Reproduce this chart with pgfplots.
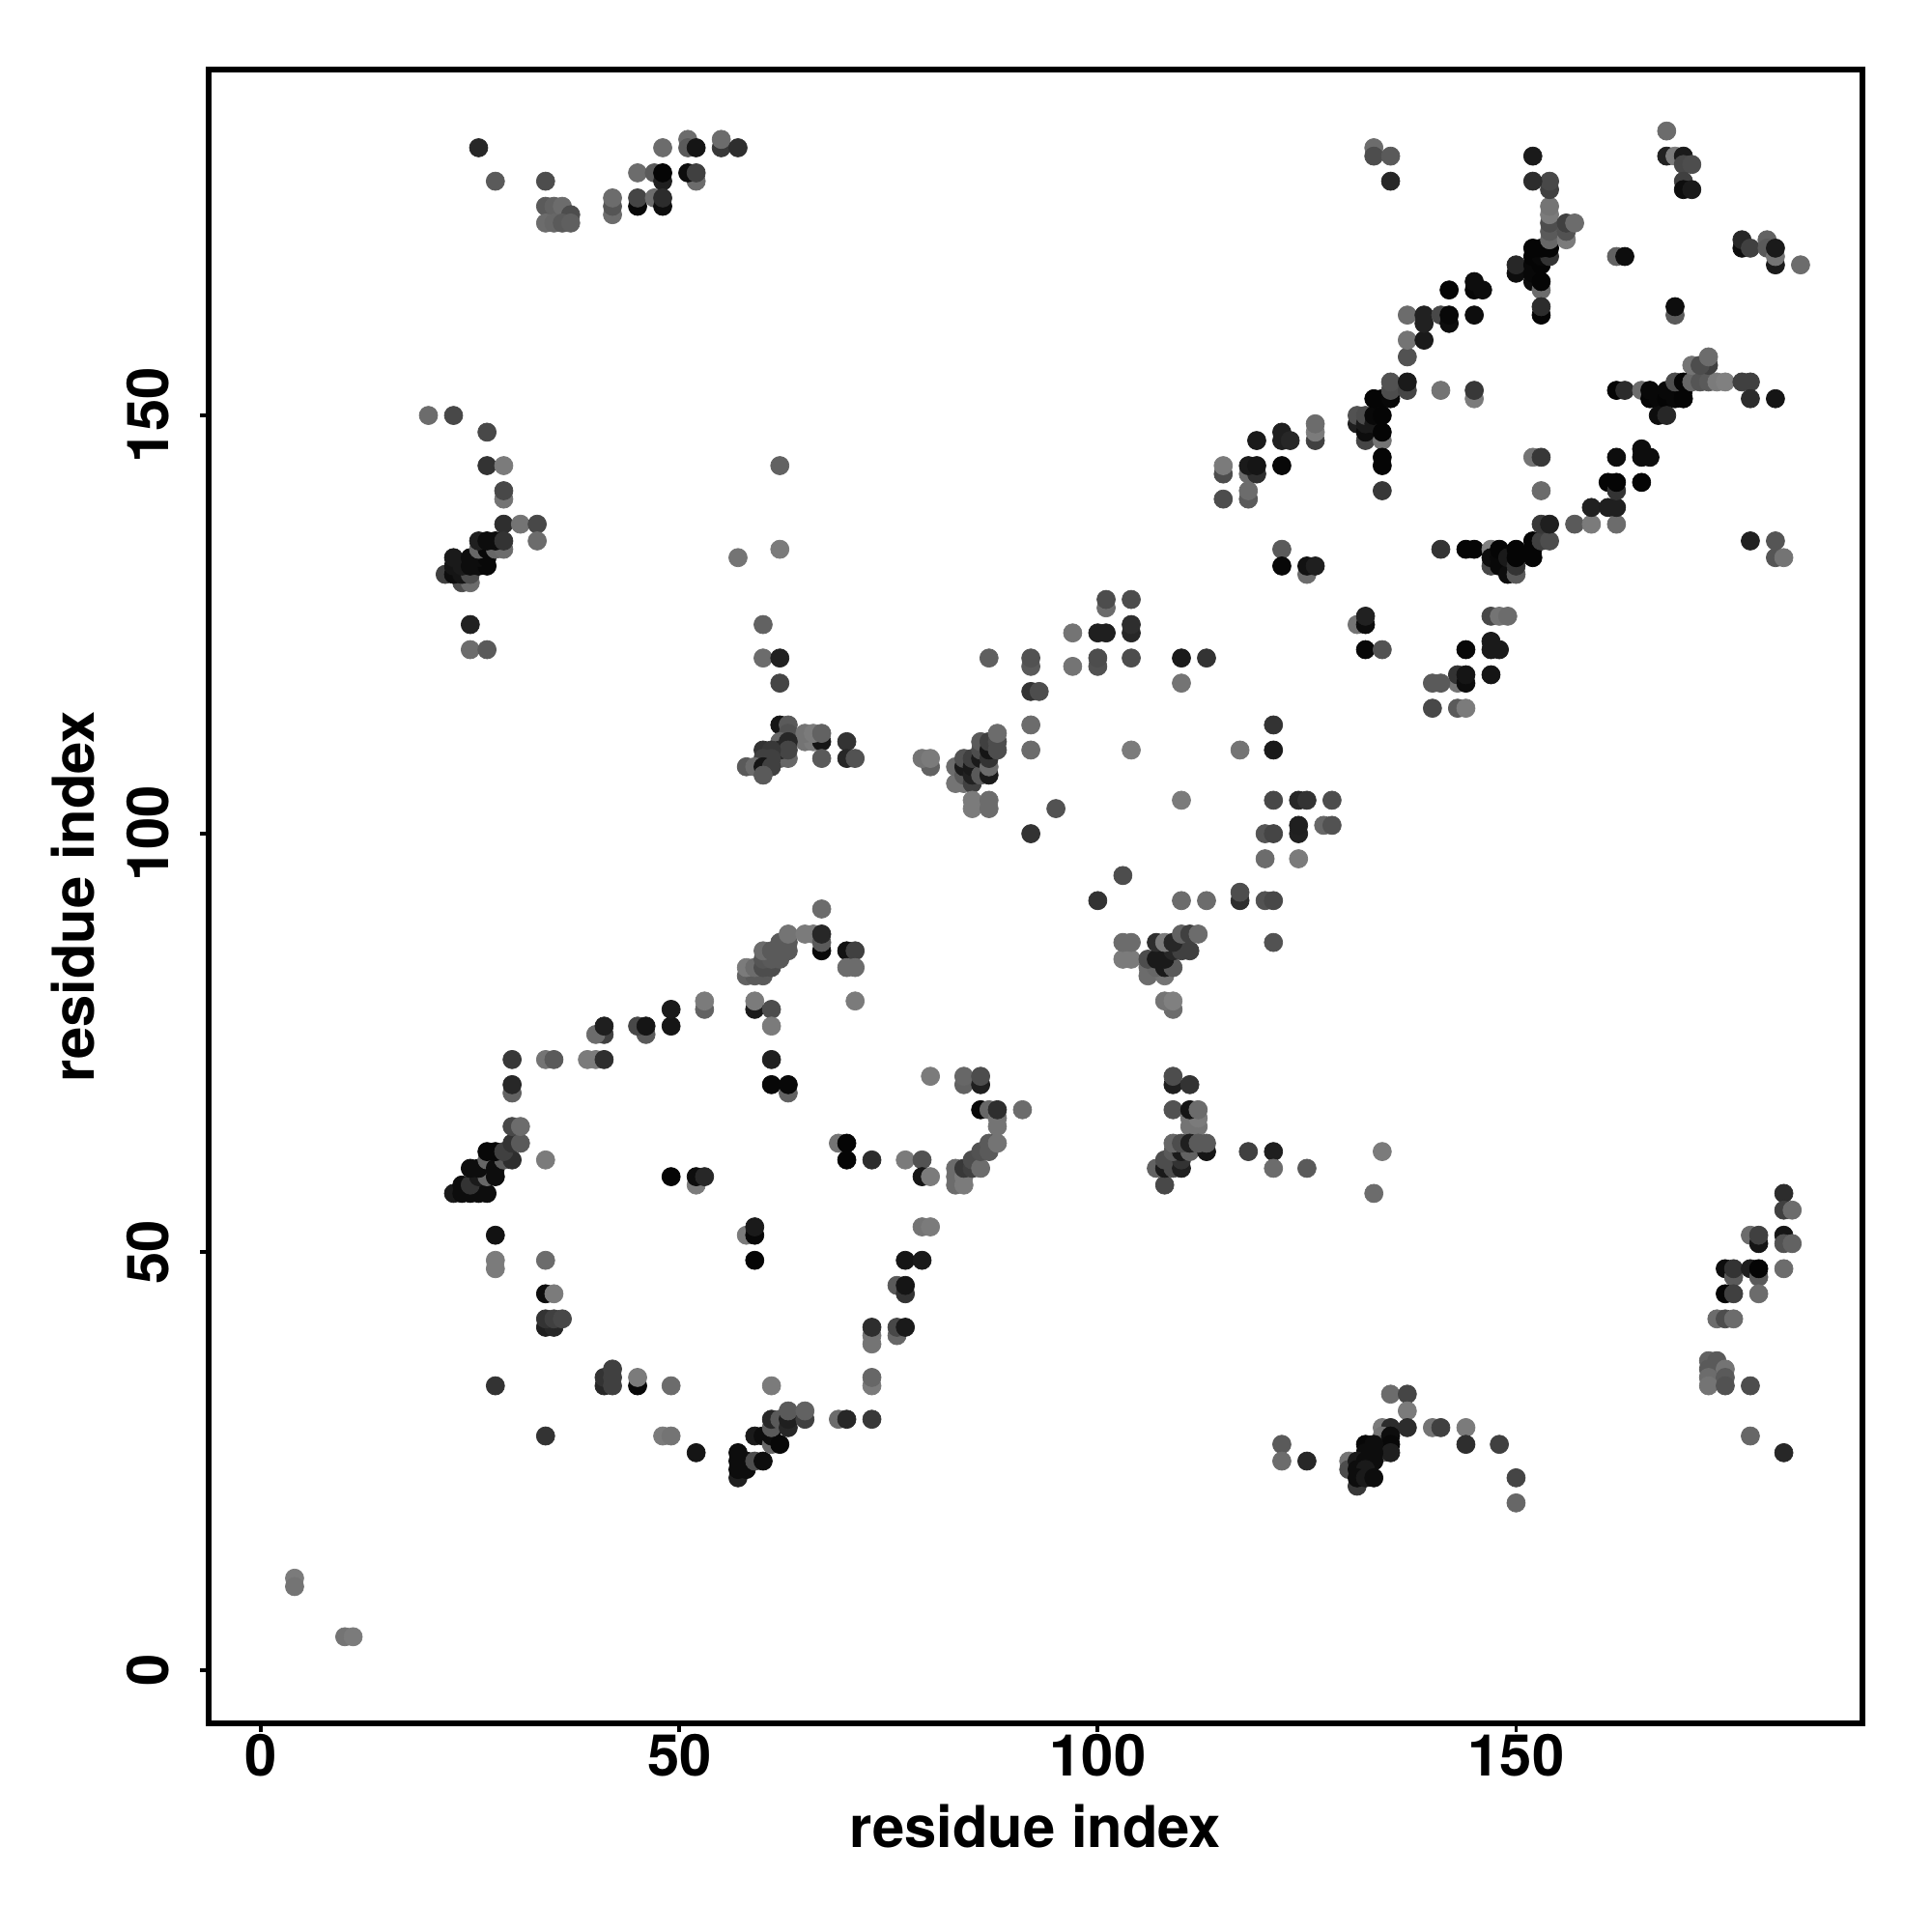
\documentclass[border=0pt]{standalone}
\usepackage{fontspec}
\setmainfont{TeX Gyre Heros}
\usepackage{pgfplots}
\pgfplotsset{compat=1.18}
\begin{document}
\begin{tikzpicture}
\path[use as bounding box] (0,0) rectangle (20cm,20cm);
\begin{axis}[
 at={(2.16cm,2.16cm)}, anchor=south west, scale only axis, width=17.12cm, height=17.12cm,
 xmin=-6.27, xmax=191.4, ymin=-6.35, ymax=191.35,
 axis line style={line width=1.75pt}, 
 xtick={0,50,100,150}, ytick={0,50,100,150}, tick align=outside, tick pos=left,
 major tick length=0.09cm, tick style={line width=1.1pt,black},
 /pgf/number format/assume math mode=true,
 every tick label/.append style={font=\fontsize{17}{18}\bfseries},
 xticklabel shift=-3pt,
 yticklabel shift=5.5pt,
 yticklabel style={rotate=90, anchor=south},
 xlabel={residue index}, ylabel={residue index},
 label style={font=\fontsize{17}{18}\bfseries},
 xlabel style={at={(axis description cs:0.5,-0.0625)}, anchor=center},
 ylabel style={at={(axis description cs:-0.082,0.5)}, anchor=center, rotate=0},
 colormap={gr}{gray(0cm)=(0); gray(1cm)=(1)}, point meta min=0, point meta max=1,
]
\addplot[scatter, only marks, mark=*, mark size=2.7pt, scatter src=explicit,
 mark options={line width=0.2pt},
 scatter/use mapped color={draw=mapped color, fill=mapped color}]
 table[x=x,y=y,meta=c,row sep=\\] {
x y c\\
4 11 .48\\ 4 10 .45\\ 10 4 .45\\ 11 4 .48\\
26 182 .15\\ 28 178 .35\\ 34 178 .3\\ 34 175 .35\\ 35 175 .38\\ 36 175 .42\\ 37 174 .3\\ 34 173 .42\\ 35 173 .4\\ 36 173 .35\\ 37 173 .37\\
42 174 .42\\ 42 175 .33\\ 42 176 .42\\ 45 175 .03\\ 45 176 .27\\ 45 179 .42\\ 47 179 .35\\ 47 176 .42\\ 48 182 .42\\ 48 178 .12\\ 48 179 .02\\ 48 175 .05\\ 48 176 .17\\
51 183 .42\\ 51 182 .35\\ 52 182 .08\\ 52 178 .42\\ 51 179 .05\\ 52 179 .25\\ 55 182 .22\\ 55 183 .42\\ 57 182 .18\\
133 182 .42\\ 133 181 .3\\ 135 181 .35\\ 135 178 .15\\
20 150 .42\\ 23 150 .28\\ 27 148 .28\\ 27 144 .2\\ 29 144 .48\\ 29 140 .45\\ 29 141 .28\\ 29 137 .18\\ 31 137 .45\\ 33 137 .28\\ 33 135 .42\\
24 130 .3\\ 25 130 .42\\ 22 131 .25\\ 23 131 .05\\ 24 131 .08\\ 25 131 .3\\ 23 132 .08\\ 24 132 .1\\ 25 132 .05\\ 26 132 .05\\ 27 132 .03\\ 23 133 .1\\ 25 133 .05\\ 26 133 .05\\ 27 133 .03\\ 26 134 .4\\ 27 134 .03\\ 28 134 .4\\ 29 134 .42\\ 26 135 .12\\ 27 135 .05\\ 28 135 .05\\ 29 135 .2\\
25 125 .13\\ 25 122 .42\\ 27 122 .35\\
62 144 .38\\ 62 134 .48\\ 57 133 .45\\ 60 125 .38\\ 60 121 .42\\ 62 121 .13\\ 62 118 .27\\
62 113 .08\\ 63 113 .35\\ 63 112 .32\\ 65 111 .45\\ 66 111 .48\\ 67 111 .08\\ 65 112 .45\\ 66 112 .48\\ 67 112 .38\\ 62 111 .4\\ 63 111 .15\\ 70 111 .2\\ 70 109 .15\\ 71 109 .32\\ 67 109 .35\\
62 109 .38\\ 63 109 .4\\ 62 110 .15\\ 63 110 .27\\ 60 110 .2\\ 61 110 .22\\ 60 109 .25\\ 61 109 .25\\ 58 108 .35\\ 59 108 .42\\ 60 108 .08\\ 61 108 .25\\ 60 107 .35\\
87 121 .37\\ 92 120 .35\\ 92 121 .32\\ 92 117 .2\\ 93 117 .3\\ 92 113 .42\\ 92 110 .42\\ 97 124 .45\\ 97 120 .45\\ 100 124 .12\\ 101 124 .12\\ 100 120 .32\\ 100 121 .3\\ 101 127 .42\\ 101 128 .3\\ 104 128 .3\\ 104 124 .15\\ 104 125 .18\\ 104 121 .3\\ 110 121 .1\\ 113 121 .2\\ 110 118 .45\\ 104 110 .48\\ 117 110 .45\\ 121 113 .2\\ 121 110 .1\\
80 108 .38\\ 79 109 .45\\ 80 109 .48\\ 83 106 .45\\ 83 108 .42\\ 84 106 .45\\ 84 107 .35\\ 84 108 .1\\ 84 109 .32\\ 85 106 .25\\ 85 107 .13\\ 85 108 .1\\ 85 109 .25\\ 86 107 .35\\ 86 109 .1\\ 86 110 .3\\ 86 111 .35\\ 87 107 .1\\ 87 108 .42\\ 87 109 .2\\ 87 110 .08\\ 87 111 .25\\ 88 110 .3\\ 88 111 .3\\ 88 112 .42\\
85 103 .48\\ 85 104 .48\\ 87 103 .42\\ 87 104 .42\\ 95 103 .32\\ 92 100 .2\\ 110 104 .48\\ 121 104 .28\\ 124 104 .15\\ 125 104 .2\\ 128 104 .3\\ 124 100 .13\\ 124 101 .12\\ 120 100 .33\\ 121 100 .27\\ 127 101 .4\\ 128 101 .32\\ 120 97 .42\\ 124 97 .48\\ 103 95 .3\\ 100 92 .2\\ 110 92 .42\\ 113 92 .42\\ 117 92 .18\\ 117 93 .3\\ 120 92 .32\\ 121 92 .28\\ 121 87 .32\\
58 83 .38\\ 59 83 .35\\ 60 83 .35\\ 58 84 .48\\ 59 84 .42\\ 60 84 .3\\ 61 84 .3\\ 60 85 .33\\ 61 85 .35\\ 62 85 .35\\ 60 86 .42\\ 61 86 .35\\ 62 86 .35\\ 63 86 .35\\ 62 87 .35\\ 63 87 .35\\ 63 88 .45\\ 65 88 .48\\ 66 88 .48\\ 67 86 .03\\ 67 87 .35\\ 67 88 .15\\ 67 91 .42\\ 70 86 .07\\ 71 86 .25\\ 70 84 .42\\ 71 84 .42\\ 71 80 .48\\
30 73 .22\\ 34 73 .45\\ 35 73 .35\\ 39 73 .48\\ 40 73 .48\\ 41 73 .18\\ 30 69 .38\\ 30 70 .15\\ 41 76 .25\\ 40 76 .42\\ 41 77 .12\\ 46 76 .35\\ 45 77 .28\\ 46 77 .08\\ 49 77 .08\\ 49 79 .1\\ 53 79 .38\\ 53 80 .48\\ 59 79 .1\\ 59 80 .48\\ 61 79 .3\\ 61 77 .48\\ 61 73 .12\\ 61 70 .03\\ 63 69 .38\\ 63 70 .03\\
23 57 .1\\ 24 57 .05\\ 25 57 .05\\ 26 57 .05\\ 27 57 .05\\ 24 58 .05\\ 25 58 .2\\ 26 59 .1\\ 27 59 .4\\ 28 59 .05\\ 25 60 .05\\ 26 60 .05\\ 27 61 .4\\ 28 60 .05\\ 29 61 .35\\ 30 61 .18\\ 27 62 .03\\ 28 62 .03\\ 29 62 .25\\ 30 63 .2\\ 31 63 .35\\ 30 65 .28\\ 31 65 .42\\ 34 61 .48\\
28 52 .07\\ 28 48 .48\\ 28 49 .48\\ 34 49 .42\\ 34 45 .05\\ 35 45 .48\\ 34 41 .12\\ 35 41 .15\\ 34 42 .2\\ 35 42 .25\\ 36 42 .28\\
49 59 .02\\ 52 58 .48\\ 52 59 .05\\ 53 59 .15\\ 58 52 .48\\ 59 52 .03\\ 59 53 .1\\ 59 49 .02\\
69 63 .45\\ 70 63 .02\\ 70 61 .02\\ 73 61 .17\\ 77 61 .48\\ 79 61 .32\\ 79 59 .08\\ 80 59 .48\\ 80 71 .48\\ 84 70 .38\\ 84 71 .4\\ 86 70 .12\\ 86 71 .3\\ 86 67 .03\\ 87 67 .4\\ 88 65 .45\\ 88 66 .45\\ 88 67 .18\\ 91 67 .42\\
83 58 .42\\ 83 59 .42\\ 83 60 .42\\ 84 58 .48\\ 84 59 .48\\ 84 60 .22\\ 85 60 .25\\ 85 61 .3\\ 86 60 .42\\ 86 62 .32\\ 87 62 .35\\ 87 63 .35\\ 88 63 .45\\
79 53 .45\\ 80 53 .48\\ 77 49 .08\\ 79 49 .1\\ 76 46 .35\\ 77 45 .2\\ 77 46 .08\\ 76 40 .4\\ 76 41 .28\\ 77 41 .1\\ 73 39 .45\\ 73 40 .45\\ 73 41 .18\\ 73 34 .48\\ 73 35 .4\\ 73 30 .22\\ 69 30 .42\\ 70 30 .15\\
28 34 .2\\ 41 34 .15\\ 41 35 .2\\ 42 34 .25\\ 42 35 .25\\ 42 36 .25\\ 45 34 .03\\ 45 35 .48\\ 49 34 .42\\ 61 34 .48\\ 34 28 .2\\ 48 28 .48\\ 49 28 .45\\ 52 26 .08\\
57 23 .12\\ 57 24 .05\\ 57 25 .05\\ 57 26 .05\\ 58 24 .05\\ 58 25 .05\\ 59 25 .3\\ 59 28 .1\\ 60 25 .05\\ 60 28 .05\\ 61 27 .4\\ 61 28 .05\\ 62 27 .03\\ 61 29 .35\\ 61 30 .15\\ 62 30 .35\\ 63 29 .15\\ 63 30 .12\\ 63 31 .35\\ 65 30 .25\\ 65 31 .38\\
103 85 .48\\ 104 85 .48\\ 103 87 .42\\ 104 87 .42\\ 106 83 .42\\ 108 83 .45\\ 106 84 .42\\ 107 84 .4\\ 108 84 .1\\ 109 84 .35\\ 106 85 .3\\ 107 85 .1\\ 108 85 .1\\ 109 86 .15\\ 110 86 .25\\ 111 86 .25\\ 107 87 .18\\ 108 87 .48\\ 109 87 .15\\ 110 88 .38\\ 111 88 .25\\ 112 88 .42\\ 109 79 .42\\ 108 80 .45\\ 109 80 .5\\
109 70 .12\\ 109 71 .3\\ 111 70 .2\\ 109 67 .32\\ 111 65 .45\\ 112 65 .45\\ 111 66 .45\\ 112 66 .48\\ 111 67 .08\\ 112 67 .42\\
108 58 .28\\ 107 60 .38\\ 108 60 .1\\ 109 60 .3\\ 110 60 .12\\ 108 61 .3\\ 110 61 .2\\ 109 62 .35\\ 110 62 .1\\ 111 62 .38\\ 113 62 .08\\ 109 63 .4\\ 110 63 .3\\ 111 63 .12\\ 112 63 .35\\ 113 63 .35\\ 118 62 .25\\ 121 62 .12\\ 121 60 .42\\ 125 60 .35\\ 134 62 .48\\ 133 57 .42\\
182 57 .17\\ 182 55 .25\\ 183 55 .42\\ 178 52 .42\\ 179 51 .08\\ 179 52 .25\\ 182 52 .08\\ 182 51 .32\\ 183 51 .38\\ 175 48 .05\\ 176 47 .35\\ 176 48 .2\\ 178 48 .12\\ 179 47 .35\\ 179 48 .02\\ 182 48 .42\\ 175 45 .02\\ 176 45 .25\\ 179 45 .42\\ 174 42 .42\\ 175 42 .3\\ 176 42 .42\\
173 37 .38\\ 174 37 .35\\ 173 36 .35\\ 174 36 .35\\ 175 36 .45\\ 173 35 .42\\ 175 35 .35\\ 173 34 .45\\ 175 34 .32\\ 178 34 .3\\ 178 28 .4\\ 182 26 .15\\
135 33 .42\\ 137 33 .27\\ 137 31 .48\\ 134 29 .48\\ 135 29 .17\\ 137 29 .17\\ 140 29 .45\\ 141 29 .25\\ 144 29 .48\\ 144 27 .18\\ 148 27 .25\\ 122 27 .35\\ 122 25 .42\\ 125 25 .15\\
130 25 .45\\ 130 24 .3\\ 134 28 .45\\ 134 27 .38\\ 134 26 .4\\ 135 28 .05\\ 135 27 .03\\ 135 26 .12\\ 132 27 .03\\ 133 27 .05\\ 132 26 .05\\ 133 26 .05\\ 131 25 .1\\ 132 25 .05\\ 133 25 .05\\ 131 24 .05\\ 132 24 .1\\ 131 22 .22\\ 131 23 .05\\ 132 23 .1\\ 133 23 .05\\ 150 23 .27\\ 150 20 .4\\
115 140 .3\\ 118 140 .35\\ 118 141 .42\\ 115 143 .3\\ 115 144 .48\\ 118 143 .42\\ 119 143 .18\\ 118 144 .1\\ 119 144 .08\\ 122 144 .03\\ 119 147 .1\\ 122 147 .12\\ 122 148 .12\\ 123 147 .15\\ 126 147 .25\\ 126 148 .48\\ 126 149 .42\\
122 134 .35\\ 122 132 .03\\ 125 131 .42\\ 125 132 .07\\ 126 132 .12\\ 131 125 .45\\ 132 125 .05\\ 132 126 .13\\ 132 122 .03\\ 134 122 .32\\
131 149 .12\\ 131 150 .32\\ 132 147 .27\\ 132 148 .05\\ 132 149 .1\\ 132 150 .3\\ 133 149 .1\\ 133 150 .03\\ 134 147 .45\\ 134 148 .02\\ 134 150 .02\\ 133 152 .02\\ 134 152 .02\\ 135 152 .03\\ 135 153 .3\\ 135 154 .32\\ 137 153 .27\\ 137 154 .1\\ 134 145 .02\\ 134 144 .02\\ 134 141 .22\\ 141 153 .45\\ 145 152 .48\\ 145 153 .22\\
141 134 .2\\ 144 134 .02\\ 145 134 .02\\ 147 134 .5\\ 147 132 .28\\ 147 133 .05\\ 148 132 .03\\ 148 133 .03\\ 148 134 .02\\ 149 131 .05\\ 149 133 .1\\ 150 131 .35\\ 150 132 .2\\ 150 133 .02\\ 150 134 .02\\ 152 133 .02\\ 152 134 .02\\ 152 135 .02\\ 153 135 .25\\ 154 135 .3\\ 153 137 .22\\ 154 137 .12\\ 152 145 .45\\ 153 145 .22\\ 153 141 .42\\ 157 137 .35\\ 159 137 .48\\ 162 137 .42\\ 159 139 .13\\ 161 139 .12\\ 162 139 .12\\ 161 142 .02\\ 162 141 .2\\ 162 142 .02\\ 165 142 .02\\ 162 145 .05\\ 165 145 .05\\ 165 146 .05\\ 166 145 .05\\
178 135 .13\\ 181 133 .33\\ 182 133 .45\\ 181 135 .33\\
147 126 .28\\ 148 126 .45\\ 149 126 .42\\ 147 122 .1\\ 147 123 .1\\ 148 122 .1\\ 144 122 .03\\ 143 118 .45\\ 143 119 .2\\ 144 118 .05\\ 144 119 .08\\ 147 119 .08\\ 140 118 .35\\ 141 118 .35\\ 140 115 .28\\ 143 115 .35\\ 144 115 .48\\
137 157 .32\\ 137 159 .45\\ 139 159 .1\\ 137 162 .42\\ 139 161 .13\\ 139 162 .13\\ 141 162 .28\\ 142 161 .05\\ 142 162 .03\\ 145 162 .05\\ 142 165 .02\\ 145 165 .03\\ 145 166 .05\\ 146 165 .05\\
150 167 .05\\ 150 168 .15\\ 152 166 .05\\ 152 167 .03\\ 152 168 .03\\ 153 165 .42\\ 153 166 .02\\ 153 168 .02\\ 152 169 .02\\ 153 169 .03\\ 154 169 .2\\ 152 170 .02\\ 153 170 .02\\ 154 170 .02\\ 153 162 .02\\ 153 163 .17\\ 154 171 .4\\ 154 172 .35\\ 154 173 .3\\ 154 174 .48\\ 154 175 .45\\ 154 177 .25\\ 154 178 .28\\ 152 178 .17\\ 152 181 .1\\ 156 171 .48\\ 156 172 .32\\ 156 173 .25\\ 157 173 .42\\
162 169 .38\\ 163 169 .05\\ 169 162 .35\\ 169 163 .05\\ 168 184 .42\\ 168 181 .13\\ 169 181 .48\\ 170 181 .1\\ 170 180 .28\\ 171 180 .3\\ 170 178 .25\\ 170 177 .05\\ 171 177 .1\\
177 170 .05\\ 177 171 .15\\ 178 170 .25\\ 180 171 .38\\ 180 170 .35\\ 181 168 .1\\ 181 169 .45\\ 181 170 .1\\ 184 168 .42\\
162 153 .02\\ 163 153 .17\\ 165 153 .42\\ 166 152 .02\\ 166 153 .03\\ 167 152 .03\\ 168 152 .02\\ 168 153 .03\\ 169 152 .03\\ 170 152 .02\\ 170 153 .02\\ 169 154 .3\\ 170 154 .02\\ 171 154 .4\\ 172 154 .33\\ 173 154 .35\\ 174 154 .48\\ 175 154 .5\\ 177 154 .25\\ 178 154 .25\\ 178 152 .17\\ 181 152 .08\\ 167 150 .05\\ 168 150 .15\\ 173 156 .25\\ 171 156 .45\\ 172 156 .3\\ 173 157 .42\\
};
\end{axis}
\end{tikzpicture}
\end{document}
